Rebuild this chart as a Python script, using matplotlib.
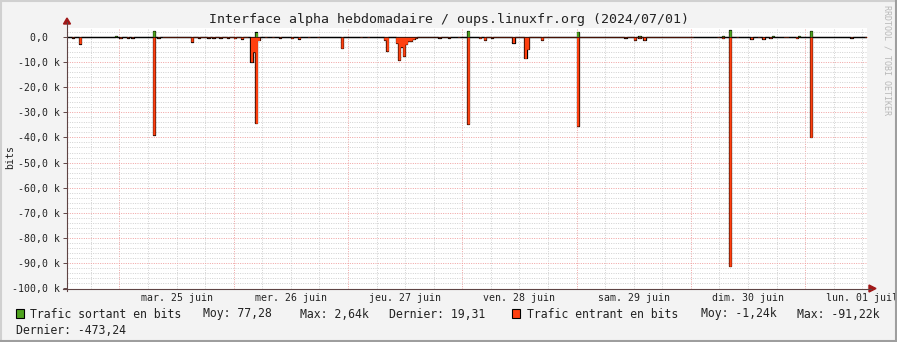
import numpy as np
import matplotlib.pyplot as plt
from matplotlib.patches import Rectangle, Polygon
from matplotlib.lines import Line2D

W, H = 897, 342
MONO = 'DejaVu Sans Mono'

# heures depuis le 25 juin 00:00, pas de 30 minutes
t_start = -11.0
step_h = 0.5
n_steps = 336

day_labels = ['mar. 25 juin', 'mer. 26 juin', 'jeu. 27 juin', 'ven. 28 juin',
              'sam. 29 juin', 'dim. 30 juin', 'lun. 01 juil']
day_label_hours = [12, 36, 60, 84, 108, 132, 156]

y_ticks = [0, -10, -20, -30, -40, -50, -60, -70, -80, -90, -100]
y_labels = ['0,0  ', '-10,0 k', '-20,0 k', '-30,0 k', '-40,0 k', '-50,0 k',
            '-60,0 k', '-70,0 k', '-80,0 k', '-90,0 k', '-100,0 k']

# trafic sortant (kbits) : index du pas -> valeur
out_steps = [20, 36, 79, 168, 214, 240, 275, 278, 296, 307, 312]
out_kbits = [0.3, 2.3, 1.7, 2.3, 2.0, 0.3, 0.3, 2.64, 0.3, 0.3, 2.3]

# trafic entrant (kbits, négatif)
in_steps = [2, 5, 22, 25, 27, 36, 38, 52, 55, 59, 61, 64, 67, 70, 73,
            77, 78, 79, 80, 83, 86, 89, 94, 97, 101, 105, 115, 123, 126,
            133, 134, 138, 139, 140, 141, 142, 143, 144, 145, 146,
            156, 160, 164, 168, 173, 175, 178, 187, 192, 193, 199, 208,
            214, 221, 222, 234, 238, 240, 242, 255, 261, 262, 273, 275,
            278, 281, 287, 290, 292, 295, 301, 302, 306, 312, 329, 335]
in_kbits = [-0.4, -2.8, -0.5, -0.4, -0.4, -39.0, -0.4, -2.0, -0.4, -0.4, -0.4, -0.4, -0.4, -0.6, -0.8,
            -10.0, -6.0, -34.4, -1.5, -0.3, -0.3, -0.4, -0.6, -0.8, -0.3, -0.3, -4.6, -0.3, -0.3,
            -1.3, -5.7, -2.5, -9.3, -4.0, -7.7, -3.0, -1.7, -1.7, -1.0, -0.5,
            -0.4, -0.4, -0.3, -34.7, -0.6, -1.3, -0.4, -2.4, -8.6, -5.0, -1.3, -0.3,
            -35.5, -0.3, -0.3, -0.4, -1.3, -0.5, -1.3, -0.3, -0.3, -0.3, -0.3, -0.6,
            -91.2, -0.3, -0.9, -0.3, -0.9, -0.5, -0.3, -0.3, -0.6, -40.0, -0.4, -0.3]

# plages avec un faible trafic entrant continu (début, fin, kbits)
in_floor_start = [40, 147, 175]
in_floor_end = [76, 160, 261]
in_floor_kbits = [-0.3, -0.2, -0.3]

green = '#4ea21e'
red = '#ff4010'


def fx(x):
    return x / W


def fy(y):
    return 1 - y / H


edges = t_start + step_h * np.arange(n_steps + 1)
out_vals = np.zeros(n_steps)
out_vals[out_steps] = out_kbits
in_vals = np.zeros(n_steps)
for a, b, v in zip(in_floor_start, in_floor_end, in_floor_kbits):
    in_vals[a:b] = v
in_vals[in_steps] = in_kbits

fig = plt.figure(figsize=(W / 100, H / 100), dpi=100, facecolor='#f3f3f3')
ax = fig.add_axes([fx(67), fy(288.5), 800 / W, (288.5 - 27.7) / H])
ax.set_facecolor('white')
ax.set_xlim(t_start, t_start + step_h * n_steps)
ax.set_ylim(-100, 3.57)

# grille
for h in np.arange(-6, 157, 6):
    major = h % 24 == 0
    ax.axvline(h, color='#f0a0a0' if major else '#d0d0d0', lw=0.7,
               dashes=(1, 1.4), zorder=0)
for v in np.arange(-98, 3, 2):
    major = v % 10 == 0
    ax.axhline(v, color='#f0a0a0' if major else '#d0d0d0', lw=0.7,
               dashes=(1, 1.4), zorder=0)

# courbes : contour noir dessous, aires par-dessus (le contour déborde)
out_ext = np.append(out_vals, out_vals[-1])
in_ext = np.append(in_vals, in_vals[-1])
ax.step(edges, out_ext, where='post', color='black', lw=0.9, zorder=2)
ax.step(edges, in_ext, where='post', color='black', lw=0.9, zorder=2)
ax.fill_between(edges, 0, out_ext, step='post', color=green, lw=0, zorder=3)
ax.fill_between(edges, 0, in_ext, step='post', color=red, lw=0, zorder=3)
ax.axhline(0, color='black', lw=0.45, zorder=4)

for s in ax.spines.values():
    s.set_visible(False)

ax.set_yticks(y_ticks)
ax.set_yticklabels(y_labels, fontfamily=MONO, fontsize=7.1, color='#222222')
ax.set_xticks(day_label_hours)
ax.set_xticklabels(day_labels, fontfamily=MONO, fontsize=7.1, color='#222222')
ax.tick_params(axis='y', length=3, width=0.7, color='#604545', pad=2)
ax.tick_params(axis='x', length=0, pad=3.5)
fig.text(fx(10), fy(157), 'bits', rotation=90, ha='center', va='center',
         fontfamily=MONO, fontsize=7.1, color='#222222')

# axes avec flèches
axis_col = '#5f4444'
arrow_col = '#a01818'
fig.add_artist(Line2D([fx(67), fx(67)], [fy(291), fy(22)], color=axis_col, lw=0.8))
fig.add_artist(Line2D([fx(63), fx(871)], [fy(288.5), fy(288.5)], color=axis_col, lw=0.8))
fig.add_artist(Polygon([[fx(63.5), fy(24)], [fx(70.5), fy(24)], [fx(67), fy(18)]],
                       closed=True, color=arrow_col))
fig.add_artist(Polygon([[fx(869), fy(285)], [fx(869), fy(292)], [fx(876), fy(288.5)]],
                       closed=True, color=arrow_col))

fig.text(0.5, fy(19), 'Interface alpha hebdomadaire / oups.linuxfr.org (2024/07/01)',
         ha='center', va='center', fontfamily=MONO, fontsize=9.55, color='#222222')
fig.text(fx(887), fy(5), 'RRDTOOL / TOBI OETIKER', rotation=270, ha='center', va='top',
         fontfamily=MONO, fontsize=6, color='#b8b8b8')

# légende
leg_y1, leg_y2 = 314, 330
fig.add_artist(Rectangle((fx(16), fy(318)), 8 / W, 9 / H, facecolor=green,
                         edgecolor='black', lw=0.8))
fig.add_artist(Rectangle((fx(512), fy(318)), 8 / W, 9 / H, facecolor=red,
                         edgecolor='black', lw=0.8))
legend_items = [(30, leg_y1, 'Trafic sortant en bits'), (203, leg_y1, 'Moy: 77,28'),
                (300, leg_y1, 'Max: 2,64k'), (389, leg_y1, 'Dernier: 19,31'),
                (527, leg_y1, 'Trafic entrant en bits'), (701, leg_y1, 'Moy: -1,24k'),
                (797, leg_y1, 'Max: -91,22k'), (16, leg_y2, 'Dernier: -473,24')]
for x, y, s in legend_items:
    fig.text(fx(x), fy(y), s, ha='left', va='center', fontfamily=MONO,
             fontsize=8.3, color='#222222')

# cadre
fig.add_artist(Line2D([0, 1], [fy(0.5), fy(0.5)], color='#d0d0d0', lw=1.5))
fig.add_artist(Line2D([fx(0.5), fx(0.5)], [0, 1], color='#d0d0d0', lw=1.5))
fig.add_artist(Line2D([fx(896), fx(896)], [0, 1], color='#9e9e9e', lw=1.5))
fig.add_artist(Line2D([0, 1], [fy(341), fy(341)], color='#9e9e9e', lw=1.5))

fig.savefig('out.png', dpi=100, facecolor=fig.get_facecolor())
